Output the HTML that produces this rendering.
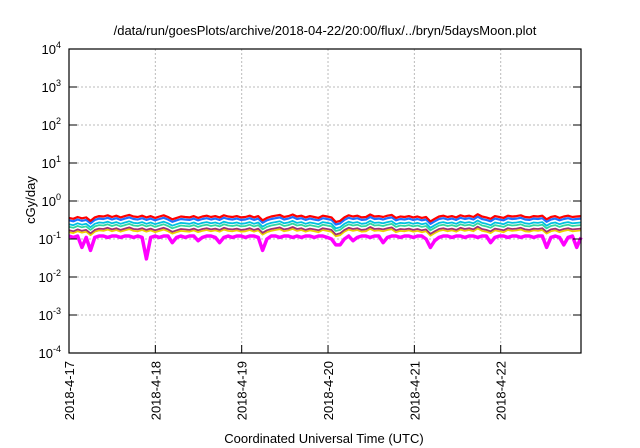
<!DOCTYPE html>
<html><head><meta charset="utf-8"><style>
body{margin:0;background:#fff;}
svg{display:block;font-family:"Liberation Sans",sans-serif;}
</style></head><body>
<svg id="chart" width="640" height="448">
<text x="325" y="35" font-size="13" text-anchor="middle">/data/run/goesPlots/archive/2018-04-22/20:00/flux/../bryn/5daysMoon.plot</text>
<text transform="translate(35,200) rotate(-90)" font-size="13" text-anchor="middle">cGy/day</text>
<text x="324" y="443" font-size="13" text-anchor="middle">Coordinated Universal Time (UTC)</text>
<g id="grid"></g><g id="series"></g><g id="axes"></g>
</svg>
<script>
const yExponents=[-4,-3,-2,-1,0,1,2,3,4];
const dayLabels=["2018-4-17","2018-4-18","2018-4-19","2018-4-20","2018-4-21","2018-4-22"];
const totalDays=5.93;
const redValues=[
0.36,0.34,0.38,0.35,0.37,0.30,0.37,0.40,0.39,0.42,0.38,0.41,0.37,0.40,0.43,0.39,0.38,0.41,0.37,0.40,
0.36,0.39,0.42,0.38,0.33,0.36,0.39,0.38,0.37,0.40,0.36,0.39,0.41,0.38,0.40,0.37,0.42,0.39,0.38,0.40,
0.37,0.38,0.41,0.37,0.40,0.31,0.36,0.39,0.41,0.43,0.38,0.40,0.44,0.39,0.41,0.37,0.40,0.38,0.36,0.41,
0.39,0.37,0.28,0.30,0.37,0.42,0.39,0.41,0.37,0.38,0.44,0.39,0.40,0.38,0.41,0.43,0.36,0.39,0.38,0.40,
0.37,0.39,0.36,0.38,0.29,0.34,0.39,0.41,0.38,0.40,0.37,0.42,0.39,0.41,0.38,0.45,0.39,0.37,0.34,0.40,
0.38,0.36,0.41,0.39,0.40,0.42,0.38,0.37,0.40,0.39,0.41,0.33,0.38,0.40,0.36,0.39,0.41,0.38,0.39,0.40];
const magentaValues=[
0.12,0.11,0.12,0.06,0.11,0.05,0.11,0.12,0.12,0.11,0.12,0.12,0.11,0.12,0.12,0.11,0.12,0.11,0.03,0.11,
0.12,0.11,0.12,0.12,0.08,0.11,0.12,0.11,0.12,0.12,0.09,0.11,0.12,0.12,0.11,0.08,0.11,0.12,0.11,0.12,
0.12,0.11,0.12,0.12,0.11,0.05,0.10,0.12,0.12,0.11,0.12,0.12,0.11,0.12,0.11,0.12,0.12,0.11,0.12,0.12,
0.11,0.10,0.07,0.07,0.10,0.12,0.09,0.11,0.12,0.12,0.11,0.12,0.12,0.08,0.11,0.12,0.12,0.11,0.12,0.12,
0.11,0.12,0.12,0.10,0.06,0.09,0.11,0.12,0.12,0.11,0.12,0.12,0.11,0.12,0.12,0.11,0.12,0.12,0.08,0.11,
0.12,0.12,0.11,0.12,0.12,0.11,0.12,0.12,0.11,0.12,0.12,0.06,0.11,0.12,0.11,0.07,0.11,0.12,0.06,0.11];
const seriesNames=["red","blue","cyan","teal","purple","yellow"];
const seriesColors=["#ff0000","#1f6fff","#00c0e0","#30d8a0","#a03070","#f0d000"];
const seriesRatios=[1.0,0.86,0.68,0.58,0.47,0.42];
const X0=69,X1=581,Y0=49,Y1=353;
const NS="http://www.w3.org/2000/svg";
function xs(d){return X0+(d/totalDays)*(X1-X0);}
function ys(v){const l=Math.log10(v);return Y1-(l+4)/8*(Y1-Y0);}
function mk(t,a,p){const e=document.createElementNS(NS,t);for(const k in a)e.setAttribute(k,a[k]);p.appendChild(e);return e;}
const grid=document.getElementById('grid'),axes=document.getElementById('axes'),ser=document.getElementById('series');
yExponents.forEach(ex=>{const y=ys(Math.pow(10,ex));
 if(ex>-4&&ex<4){const g=mk('line',{x1:X0,x2:X1,y1:y,y2:y,stroke:'#bbb','stroke-dasharray':'2,2','stroke-width':1},grid);
 
 }
 mk('line',{x1:X0,x2:X0+8,y1:y,y2:y,stroke:'#000'},axes);
 mk('line',{x1:X1,x2:X1-8,y1:y,y2:y,stroke:'#000'},axes);
 const t=mk('text',{x:X0-8,y:y+5,'font-size':13,'text-anchor':'end'},axes);
 
 
 t.innerHTML='10<tspan dy="-6" font-size="9">'+ex+'</tspan>';
});
dayLabels.forEach((lab,i)=>{const x=xs(i);
 if(i>0){const g=mk('line',{x1:x,x2:x,y1:Y0,y2:Y1,stroke:'#bbb','stroke-dasharray':'2,2'},grid);
 
 }
 mk('line',{x1:x,x2:x,y1:Y1,y2:Y1-8,stroke:'#000'},axes);
 const t=mk('text',{transform:`translate(${x+5},${Y1+8}) rotate(-90)`,'font-size':13,'text-anchor':'end'},axes);
 
 
 t.textContent=lab;
});
const fr=mk('rect',{x:X0,y:Y0,width:X1-X0,height:Y1-Y0,fill:'none',stroke:'#000','stroke-width':1.2},axes);


function line(vals,color,w,name){const n=vals.length;
 const pts=vals.map((v,i)=>xs(i/(n-1)*totalDays).toFixed(1)+','+ys(v).toFixed(1)).join(' ');
 const p=mk('polyline',{points:pts,fill:'none',stroke:color,'stroke-width':w,'stroke-linejoin':'round'},ser);
 
 }
line(magentaValues,'#ff00ff',3.5,'series-magenta');
for(let s=seriesNames.length-1;s>=0;s--){
 line(redValues.map(v=>v*seriesRatios[s]),seriesColors[s],s<2?2.2:1.8,'series-'+seriesNames[s]);
}
</script>
</body></html>
